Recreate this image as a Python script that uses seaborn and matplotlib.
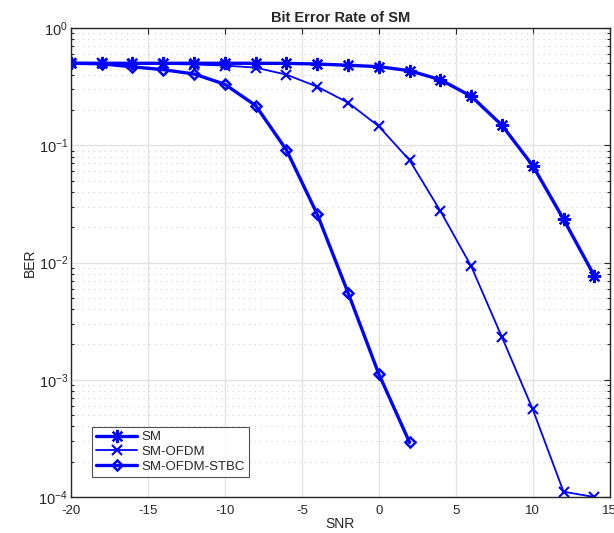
import numpy as np
import pandas as pd
import matplotlib
matplotlib.use("Agg")
import matplotlib.pyplot as plt
import seaborn as sns
from matplotlib.ticker import LogLocator, NullFormatter

# SNR grid (dB)
snr = [-20, -18, -16, -14, -12, -10, -8, -6, -4, -2, 0, 2, 4, 6, 8, 10, 12, 14]
snr_stbc = [-20, -18, -16, -14, -12, -10, -8, -6, -4, -2, 0, 2]

# Bit error rates
ber_sm = [0.5, 0.5, 0.5, 0.5, 0.5, 0.5, 0.5, 0.499, 0.493, 0.481, 0.468, 0.432,
          0.362, 0.262, 0.148, 0.067, 0.0234, 0.0077]
ber_ofdm = [0.5, 0.499, 0.497, 0.494, 0.488, 0.478, 0.459, 0.40, 0.316, 0.231,
            0.145, 0.0745, 0.0275, 0.0093, 0.00231, 0.00056, 0.000111, 0.0001]
ber_stbc = [0.5, 0.495, 0.466, 0.441, 0.405, 0.331, 0.218, 0.0912, 0.0258,
            0.00554, 0.00112, 0.000292]

labels = ["SM", "SM-OFDM", "SM-OFDM-STBC"]

sns.set_theme(style="white")
plt.rcParams["font.family"] = ["Liberation Sans", "DejaVu Sans"]
plt.rcParams["mathtext.fontset"] = "custom"
plt.rcParams["mathtext.rm"] = "Liberation Sans"
plt.rcParams["mathtext.it"] = "Liberation Sans:italic"
plt.rcParams["axes.unicode_minus"] = False

fig = plt.figure(figsize=(6.14, 5.33), dpi=100)
ax = fig.add_axes([0.1155, 0.0675, 0.8775, 0.88])

blue = "#0000ff"
asterisk = (8, 2, 0)

sns.lineplot(x=snr, y=ber_sm, ax=ax, color=blue, linewidth=2.4, marker=asterisk,
             markersize=9.5, markeredgewidth=1.6, markeredgecolor=blue,
             label=labels[0])
sns.lineplot(x=snr, y=ber_ofdm, ax=ax, color=blue, linewidth=1.3, marker="x",
             markersize=6.5, markeredgewidth=1.5, markeredgecolor=blue,
             label=labels[1])
sns.lineplot(x=snr_stbc, y=ber_stbc, ax=ax, color=blue, linewidth=2.4, marker="D",
             markersize=5, markeredgewidth=1.8, markeredgecolor=blue,
             markerfacecolor="none", label=labels[2])

ax.set_yscale("log")
ax.set_xlim(-20, 15)
ax.set_ylim(1e-4, 1)
ax.set_xticks([-20, -15, -10, -5, 0, 5, 10, 15])
ax.yaxis.set_major_locator(LogLocator(base=10, numticks=10))
ax.yaxis.set_minor_locator(LogLocator(base=10, subs=np.arange(2, 10), numticks=50))
ax.yaxis.set_minor_formatter(NullFormatter())

ax.grid(True, which="major", axis="both", color="#e3e3e3", linewidth=1.0, linestyle="-")
ax.grid(True, which="minor", axis="y", color="#d2d2d2", linewidth=0.8, linestyle=(0, (1, 4)))
ax.set_axisbelow(True)

for side in ["top", "right", "left", "bottom"]:
    ax.spines[side].set_visible(True)
    ax.spines[side].set_color("#262626")
    ax.spines[side].set_linewidth(1.0)

ax.tick_params(axis="both", which="both", direction="in", top=True, right=True,
               colors="#262626", labelsize=9.5, labelcolor="#262626")
ax.tick_params(axis="both", which="major", length=4, width=0.8)
ax.tick_params(axis="y", which="minor", length=2.5, width=0.8, left=True, right=True)
ax.tick_params(axis="y", which="major", labelsize=10.5, pad=2)
ax.tick_params(axis="x", which="major", pad=6)
ax.tick_params(axis="x", which="minor", bottom=False, top=False)

ax.set_title("Bit Error Rate of SM", fontsize=10.5, fontweight="bold", pad=4)
ax.set_xlabel("SNR", fontsize=10, color="#262626", labelpad=0)
ax.set_ylabel("BER", fontsize=10, color="#262626", labelpad=1)

leg = ax.legend(loc="lower left", bbox_to_anchor=(0.04, 0.043), fontsize=9.5,
                frameon=True, fancybox=False, edgecolor="#262626",
                handlelength=3.1, handletextpad=0.3, borderpad=0.3,
                labelspacing=0.2, borderaxespad=0)
leg.get_frame().set_linewidth(0.8)

fig.savefig("out.png", dpi=100)
